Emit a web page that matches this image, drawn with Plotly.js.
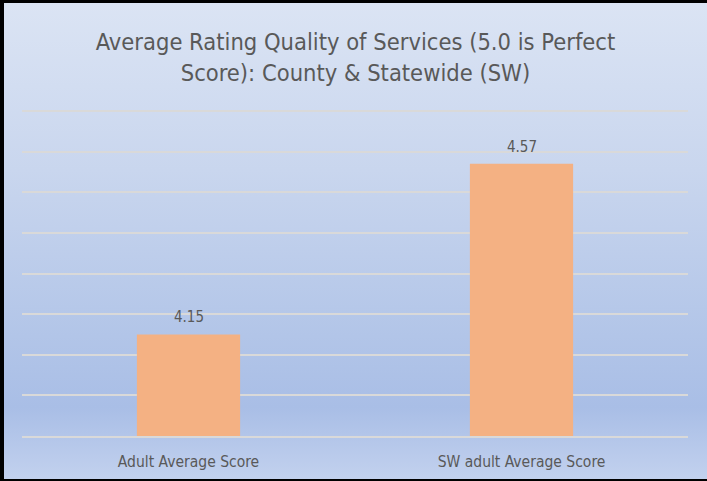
<!DOCTYPE html>
<html>
<head>
<meta charset="utf-8">
<script src="https://cdn.plot.ly/plotly-3.0.1.min.js"></script>
<style>
  html, body { margin: 0; padding: 0; }
  #wrap {
    width: 707px; height: 481px; box-sizing: border-box;
    border-top: 3px solid #000; border-left: 4px solid #000; border-bottom: 2px solid #000; border-right: 0;
    background: linear-gradient(to bottom, #dbe4f4 0%, #c9d6ee 35%, #b2c5e8 70%, #a9bee6 85%, #c2d1ee 100%);
  }
  #chart { width: 703px; height: 476px; }
</style>
</head>
<body>
<div id="wrap"><div id="chart"></div></div>
<script>
const categories = ["Adult Average Score", "SW adult Average Score"];
const scores = [4.15, 4.57];
const scoreLabels = ["4.15", "4.57"];
const titleText = "Average Rating Quality of Services (5.0 is Perfect<br>Score): County &amp; Statewide (SW)";

const FONT = '"DejaVu Sans Condensed", "Open Sans", sans-serif';
const TXT = '#595959';

const trace = {
  type: 'bar',
  x: categories,
  y: scores,
  marker: { color: '#f4b183' },
  hoverinfo: 'none'
};

const annotations = categories.map((c, i) => ({
  x: c, y: scores[i], xref: 'x', yref: 'y',
  text: scoreLabels[i], showarrow: false,
  yanchor: 'bottom', yshift: 6,
  font: { family: FONT, size: 15, color: TXT }
}));

const layout = {
  width: 703, height: 476,
  paper_bgcolor: 'rgba(0,0,0,0)',
  plot_bgcolor: 'rgba(0,0,0,0)',
  margin: { l: 18, r: 19, t: 106, b: 43 },
  bargap: 0.69,
  showlegend: false,
  title: {
    text: titleText,
    font: { family: FONT, size: 23.5, color: TXT },
    x: 0.5, xanchor: 'center',
    y: 1 - 47 / 476, yanchor: 'top', yref: 'container'
  },
  xaxis: {
    type: 'category',
    showgrid: false,
    showline: true, linecolor: '#d9d9d9', linewidth: 2,
    ticks: 'outside', ticklen: 10, tickcolor: 'rgba(0,0,0,0)',
    tickfont: { family: FONT, size: 15.5, color: TXT },
    fixedrange: true
  },
  yaxis: {
    range: [3.9, 4.705],
    dtick: 0.1, tick0: 3.9,
    showgrid: true, gridcolor: '#d9d9d9', gridwidth: 2,
    showticklabels: false, zeroline: false, ticks: '',
    fixedrange: true
  },
  annotations: annotations
};

Plotly.newPlot('chart', [trace], layout, { displayModeBar: false, staticPlot: true });
</script>
</body>
</html>
